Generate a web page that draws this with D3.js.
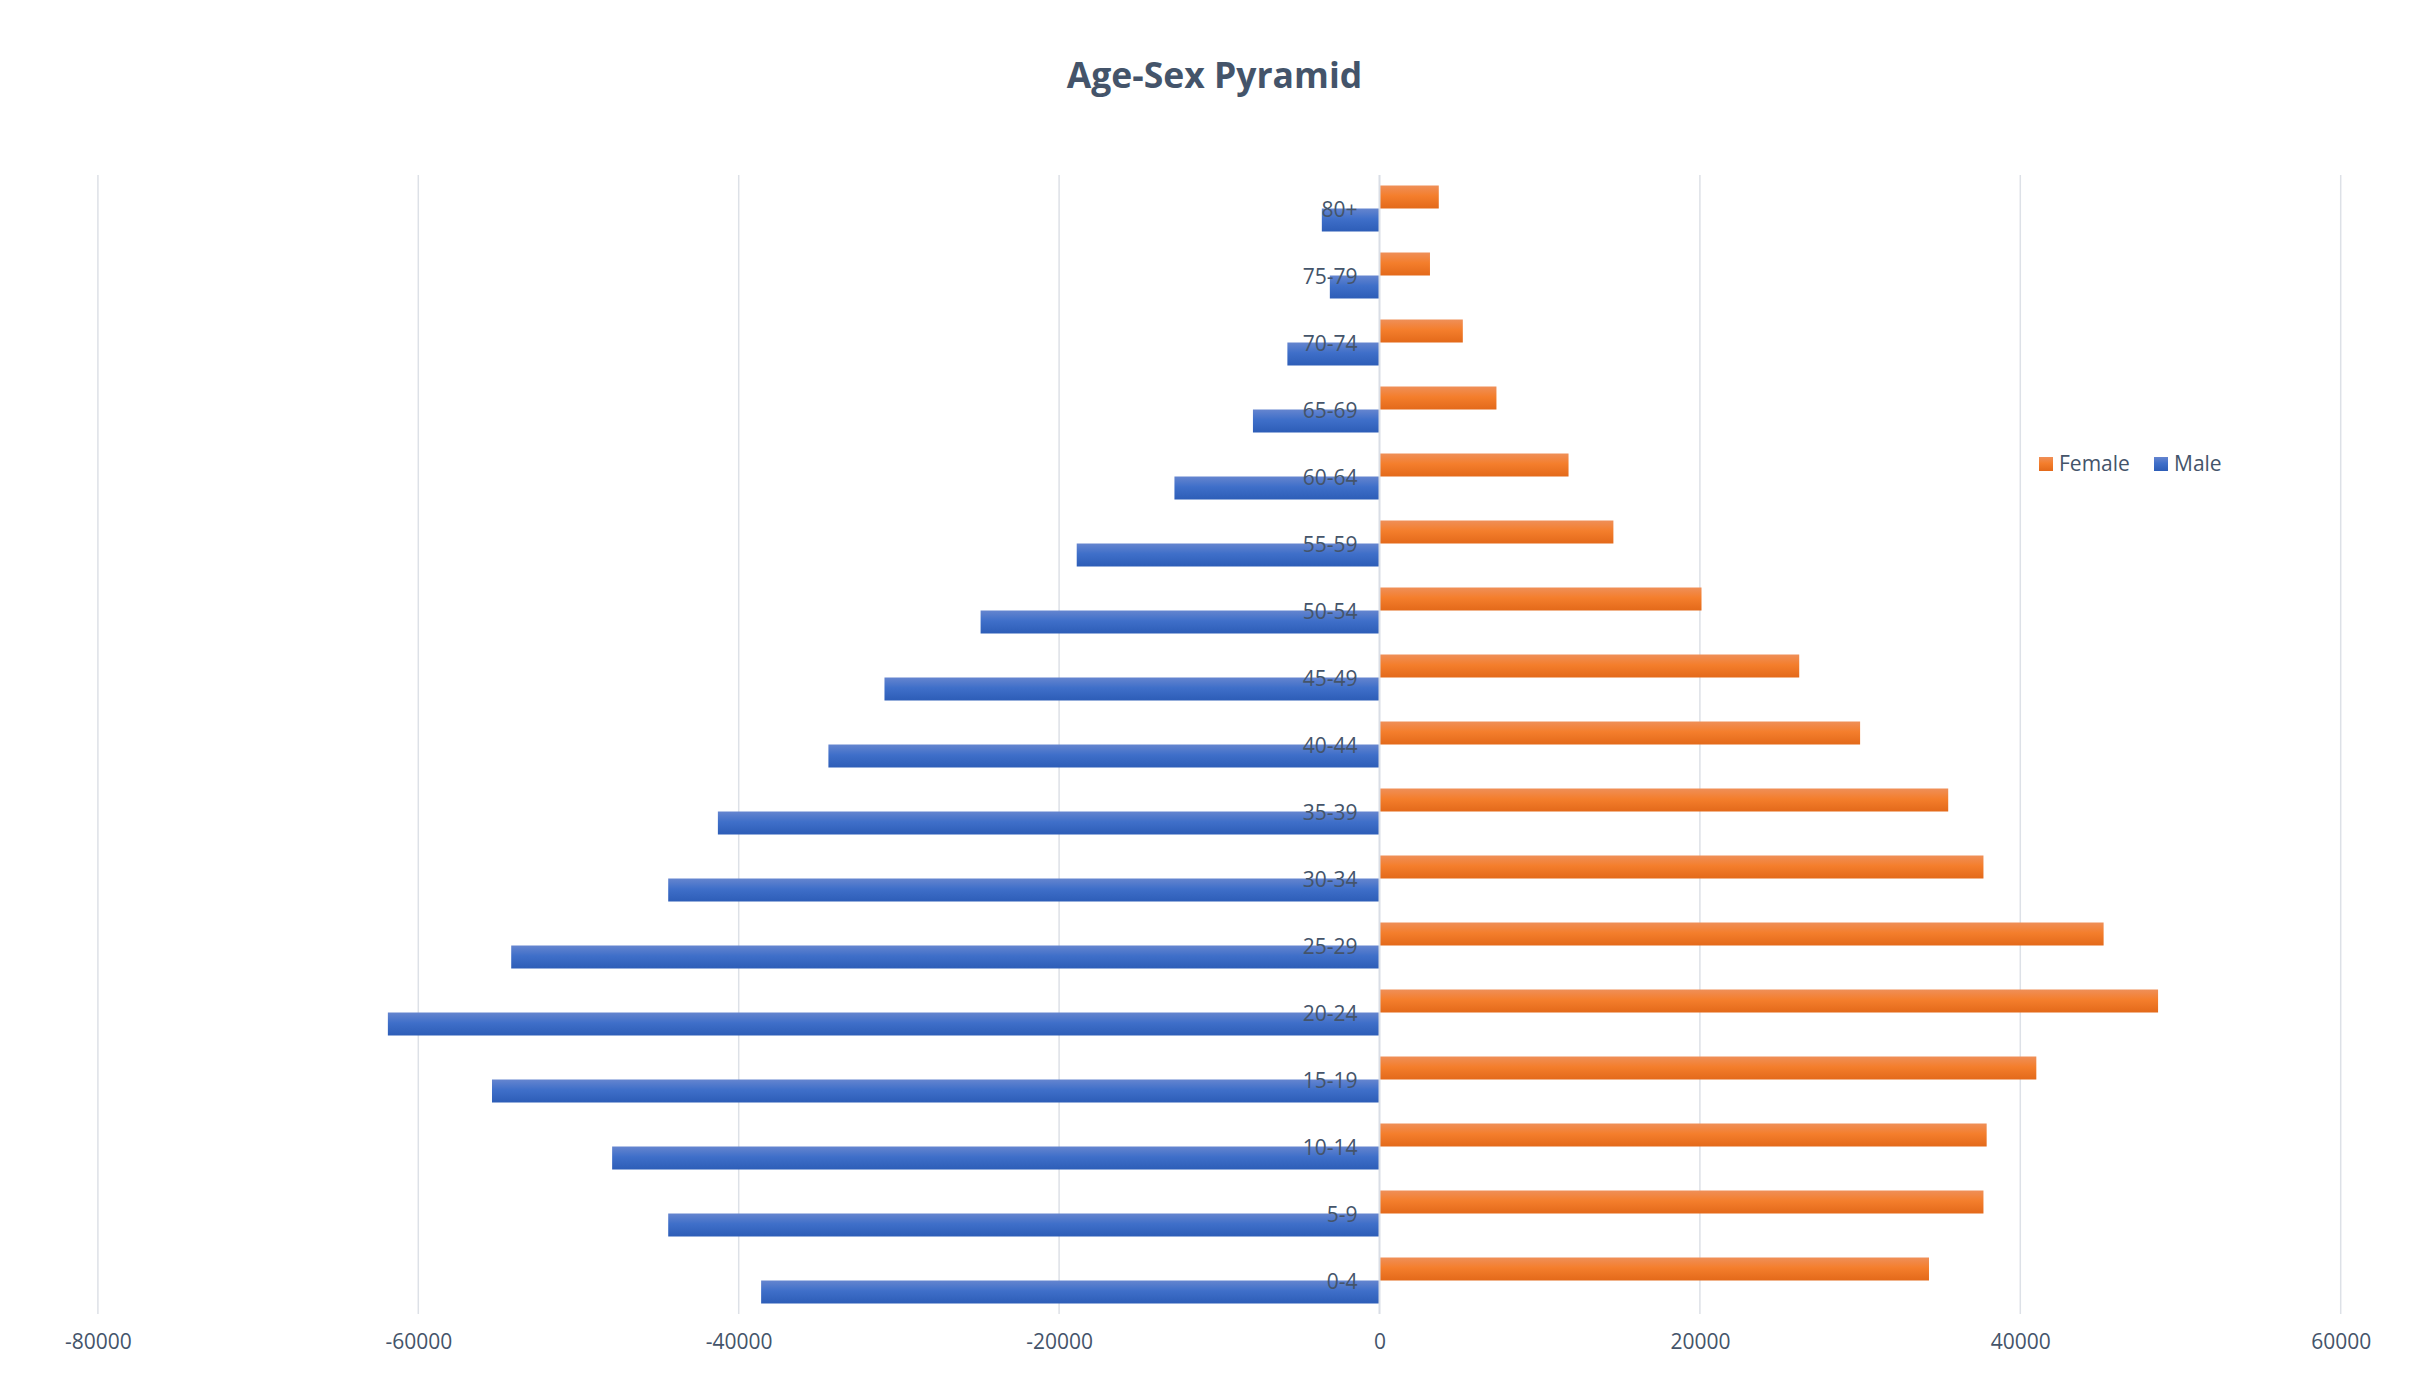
<!DOCTYPE html>
<html>
<head>
<meta charset="utf-8">
<script src="https://cdn.jsdelivr.net/npm/d3@7"></script>
<style>
  html, body { margin: 0; padding: 0; background: #ffffff; }
  svg { display: block; }
</style>
</head>
<body>
<script>
// ---- Data ----
const categories = ["0-4","5-9","10-14","15-19","20-24","25-29","30-34","35-39","40-44","45-49","50-54","55-59","60-64","65-69","70-74","75-79","80+"];
const femaleValues = [34300, 37700, 37900, 41000, 48600, 45200, 37700, 35500, 30000, 26200, 20100, 14600, 11800, 7300, 5200, 3150, 3700];
const maleValues = [-38600, -44400, -47900, -55400, -61900, -54200, -44400, -41300, -34400, -30900, -24900, -18900, -12800, -7900, -5750, -3100, -3600];
const xTicks = [-80000, -60000, -40000, -20000, 0, 20000, 40000, 60000];
const seriesNames = ["Female", "Male"];
const titleText = "Age-Sex Pyramid";

const W = 2429, H = 1400;
const font = "'Open Sans', 'Noto Sans', sans-serif";
const textColor = "#44546A";

const svg = d3.select("body").append("svg").attr("width", W).attr("height", H);

// gradients
const defs = svg.append("defs");
function grad(id, stops) {
  const g = defs.append("linearGradient").attr("id", id).attr("x1", 0).attr("y1", 0).attr("x2", 0).attr("y2", 1);
  stops.forEach(s => g.append("stop").attr("offset", s[0]).attr("stop-color", s[1]));
}
grad("gF", [["0%", "#EF8F58"], ["45%", "#F47E2C"], ["100%", "#E3691A"]]);
grad("gM", [["0%", "#6585CF"], ["45%", "#3F6FC9"], ["100%", "#2D5DB7"]]);
const fills = { Female: "url(#gF)", Male: "url(#gM)" };

// scales
const x = d3.scaleLinear().domain([-80000, 60000]).range([97.9, 2340.7]);
const plotTop = 175, plotBottom = 1314;
const y = d3.scaleBand().domain(categories.slice().reverse()).range([plotTop, plotBottom]).paddingInner(0).paddingOuter(0);
const ySub = d3.scaleBand().domain(seriesNames).range([0, y.bandwidth()]).paddingInner(0).paddingOuter(0.4565);

// gridlines
svg.append("g").selectAll("line").data(xTicks.filter(d => d !== 0)).join("line")
  .attr("x1", d => x(d)).attr("x2", d => x(d))
  .attr("y1", plotTop).attr("y2", plotBottom)
  .attr("stroke", "#DDE1E7").attr("stroke-width", 1.5);

// bars
const rows = categories.map((c, i) => ({ cat: c, Female: femaleValues[i], Male: maleValues[i] }));
seriesNames.forEach(s => {
  svg.append("g").selectAll("rect").data(rows).join("rect")
    .attr("x", d => x(Math.min(0, d[s])))
    .attr("width", d => Math.abs(x(d[s]) - x(0)))
    .attr("y", d => y(d.cat) + ySub(s))
    .attr("height", ySub.bandwidth())
    .attr("fill", fills[s]);
});

// zero axis line
svg.append("line")
  .attr("x1", x(0)).attr("x2", x(0)).attr("y1", plotTop).attr("y2", plotBottom)
  .attr("stroke", "#D9DEE6").attr("stroke-width", 2);

// category axis labels
const yAxis = svg.append("g").attr("transform", `translate(${x(0)},1.5)`)
  .call(d3.axisLeft(y).tickSize(0).tickPadding(22));
yAxis.select(".domain").remove();
yAxis.selectAll("text").attr("font-family", font).attr("font-size", 21).attr("fill", textColor);

// x axis labels
const xAxis = svg.append("g").attr("transform", `translate(0,${plotBottom})`)
  .call(d3.axisBottom(x).tickValues(xTicks).tickFormat(d => String(d)).tickSize(0).tickPadding(20));
xAxis.select(".domain").remove();
xAxis.selectAll("text").attr("font-family", font).attr("font-size", 21).attr("fill", textColor);

// title
svg.append("text").attr("x", W / 2).attr("y", 88).attr("text-anchor", "middle")
  .attr("font-family", font).attr("font-weight", "bold").attr("font-size", 35.5)
  .attr("fill", textColor).text(titleText);

// legend
const legendPos = { Female: 2039, Male: 2154 };
seriesNames.forEach(s => {
  const g = svg.append("g").attr("transform", `translate(${legendPos[s]},457)`);
  g.append("rect").attr("width", 14).attr("height", 14).attr("fill", fills[s]);
  g.append("text").attr("x", 20).attr("y", 7).attr("dy", "0.35em")
    .attr("font-family", font).attr("font-size", 21).attr("fill", textColor).text(s);
});
</script>
</body>
</html>
